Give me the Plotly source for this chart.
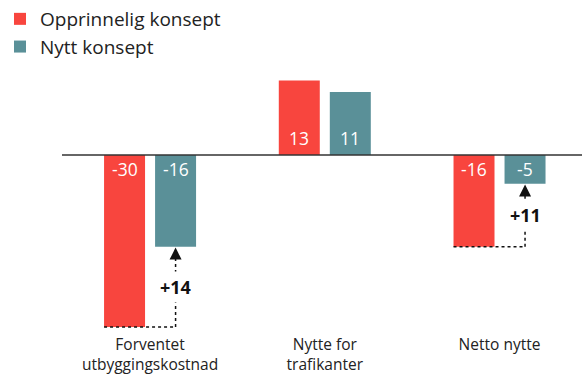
import plotly.graph_objects as go

categories = ["Forventet<br>utbyggingskostnad", "Nytte for<br>trafikanter", "Netto nytte"]
original = [-30, 13, -16]
new = [-16, 11, -5]
series_names = ["Opprinnelig konsept", "Nytt konsept"]
colors = ["#F8453E", "#5A9098"]

# bar geometry in category units (group i is centred on x = i)
bar_w = 0.2346
half_sep = 0.146
pos = list(range(len(categories)))

fig = go.Figure()
for vals, name, col, sgn in [(original, series_names[0], colors[0], -1),
                             (new, series_names[1], colors[1], 1)]:
    fig.add_trace(go.Bar(
        x=pos, y=vals, name=name, marker_color=col, marker_line_width=0,
        width=bar_w, offset=sgn * half_sep - bar_w / 2,
        hoverinfo="skip",
    ))
    # value labels inside bars next to the zero line
    for i, v in enumerate(vals):
        fig.add_annotation(
            x=i + sgn * half_sep, y=0, text=str(v), showarrow=False,
            yshift=-14 if v < 0 else 17,
            font=dict(family="Open Sans", size=17.5, color="white"),
        )

# change arrows for groups where the new concept is an improvement on a cost
for i in pos:
    a, b = original[i], new[i]
    if a >= 0:
        continue
    diff = b - a
    xr = i - half_sep - bar_w / 2
    xt = i + half_sep
    fig.add_shape(type="line", x0=xr, x1=xt, y0=a, y1=a,
                  line=dict(color="#111", width=1.5, dash="dot"), layer="above")
    fig.add_shape(type="line", x0=xt, x1=xt, y0=a, y1=b - 1.2,
                  line=dict(color="#111", width=1.5, dash="dot"), layer="above")
    fig.add_annotation(x=xt, y=b - 0.15, ax=0, ay=12, text="", showarrow=True,
                       arrowhead=2, arrowsize=1.6, arrowwidth=1.5,
                       arrowcolor="#111", axref="pixel", ayref="pixel")
    fig.add_annotation(x=xt, y=(a + b) / 2, text=f"<b>+{diff}</b>", showarrow=False,
                       bgcolor="white", borderpad=3,
                       font=dict(family="Open Sans", size=18, color="#111"))

# zero line
fig.add_shape(type="line", xref="paper", x0=0, x1=1, y0=0, y1=0,
              line=dict(color="#333", width=1.5), layer="above")

fig.update_layout(
    width=582, height=374,
    margin=dict(l=62, r=0, t=70, b=44, autoexpand=False),
    paper_bgcolor="white", plot_bgcolor="white",
    barmode="overlay",
    font=dict(family="Open Sans", color="#222"),
    showlegend=True,
    legend=dict(xref="container", yref="container", x=0, y=1,
                xanchor="left", yanchor="top", orientation="v",
                font=dict(family="Open Sans", size=19, color="#222"),
                traceorder="normal", bgcolor="rgba(0,0,0,0)"),
    xaxis=dict(range=[-0.504, 2.472], tickvals=pos, ticktext=categories,
               showgrid=False, zeroline=False, showline=False, ticks="",
               ticklabelstandoff=3,
               tickfont=dict(family="Open Sans", size=15.5, color="#222")),
    yaxis=dict(range=[-30.52, 14.83], visible=False, showgrid=False,
               zeroline=False),
)

fig.write_html("out.html")
